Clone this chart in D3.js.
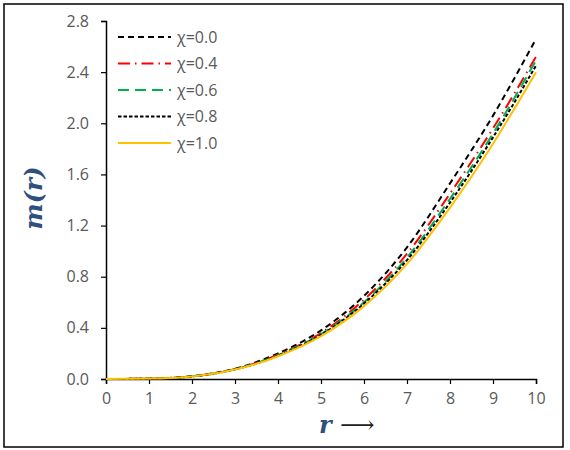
<!DOCTYPE html>
<html>
<head>
<meta charset="utf-8">
<script src="https://cdn.jsdelivr.net/npm/d3@7"></script>
<style>
  body { margin: 0; background: #fff; }
  svg text { font-family: "Open Sans", "Liberation Sans", sans-serif; }
</style>
</head>
<body>
<div id="container"></div>
<script>
const width = 570,
  height = 450,
  margin = { top: 21, bottom: 71, left: 106, right: 34 };

/** -------------- DATA -------------- */

const rValues = [0, 1, 2, 3, 4, 5, 6, 7, 8, 9, 10];
const chi00 = [0, 0.003, 0.022, 0.080, 0.200, 0.380, 0.650, 1.030, 1.530, 2.060, 2.660];
const chi04 = [0, 0.003, 0.021, 0.077, 0.190, 0.360, 0.620, 0.980, 1.450, 1.960, 2.520];
const chi06 = [0, 0.003, 0.021, 0.076, 0.186, 0.352, 0.600, 0.950, 1.410, 1.920, 2.490];
const chi08 = [0, 0.003, 0.020, 0.075, 0.182, 0.345, 0.590, 0.930, 1.380, 1.890, 2.450];
const chi10 = [0, 0.003, 0.020, 0.074, 0.178, 0.335, 0.570, 0.900, 1.340, 1.840, 2.400];
const seriesNames = ["χ=0.0", "χ=0.4", "χ=0.6", "χ=0.8", "χ=1.0"];
const xTicks = [0, 1, 2, 3, 4, 5, 6, 7, 8, 9, 10];
const yTicks = [0.0, 0.4, 0.8, 1.2, 1.6, 2.0, 2.4, 2.8];

const styles = [
  { color: "#000000", dash: "6,4" },
  { color: "#FF0000", dash: "12,5,1.5,5" },
  { color: "#00B050", dash: "11,6" },
  { color: "#000000", dash: "3.5,2" },
  { color: "#FFC000", dash: null }
];

const series = [chi00, chi04, chi06, chi08, chi10].map((vals, i) => ({
  name: seriesNames[i],
  style: styles[i],
  points: rValues.map((r, j) => [r, vals[j]])
}));

/** -------------- SCALES -------------- */

const x = d3.scaleLinear([0, 10], [margin.left, width - margin.right]);
const y = d3.scaleLinear([0, 2.8], [height - margin.bottom, margin.top]);

/** -------------- APPEND TO DOM -------------- */

const svg = d3.select("#container")
  .append("svg")
  .attr("width", width)
  .attr("height", height);

// outer frame
svg.append("rect")
  .attr("x", 4).attr("y", 4)
  .attr("width", 559).attr("height", 443)
  .attr("fill", "none")
  .attr("stroke", "#000")
  .attr("stroke-width", 1.5);

// x axis
const xAxis = svg.append("g")
  .attr("transform", `translate(0, ${y(0)})`);
xAxis.call(d3.axisBottom(x).tickValues(d3.range(0, 10.01, 0.5)).tickSize(5).tickFormat(""));
xAxis.call(d3.axisBottom(x).tickValues(xTicks).tickSize(5).tickPadding(9).tickFormat(d3.format("d")));

// y axis
const yAxis = svg.append("g")
  .attr("transform", `translate(${x(0)}, 0)`);
yAxis.call(d3.axisLeft(y).tickValues(d3.range(0, 2.81, 0.2)).tickSize(5).tickFormat(""));
yAxis.call(d3.axisLeft(y).tickValues(yTicks).tickSize(5).tickPadding(12).tickFormat(d3.format(".1f")));

svg.selectAll(".domain")
  .attr("stroke", "#000")
  .attr("stroke-width", 1.5);
svg.selectAll(".tick line")
  .attr("stroke", "#000")
  .attr("stroke-width", 1.2);
svg.selectAll(".tick text")
  .attr("fill", "#595959")
  .style("font-size", "16px");

// lines
const line = d3.line()
  .x(d => x(d[0]))
  .y(d => y(d[1]))
  .curve(d3.curveMonotoneX);

svg.append("g")
  .selectAll("path")
  .data(series)
  .join("path")
    .attr("fill", "none")
    .attr("stroke", d => d.style.color)
    .attr("stroke-width", 2)
    .attr("stroke-dasharray", d => d.style.dash)
    .attr("d", d => line(d.points));

// legend
const legend = svg.append("g")
  .attr("transform", "translate(118, 37)");

const rows = legend.selectAll("g")
  .data(series)
  .join("g")
    .attr("transform", (d, i) => `translate(0, ${i * 26.5})`);

rows.append("line")
  .attr("x1", 0).attr("x2", 53)
  .attr("y1", 0).attr("y2", 0)
  .attr("stroke", d => d.style.color)
  .attr("stroke-width", 2)
  .attr("stroke-dasharray", d => d.style.dash);

rows.append("text")
  .attr("x", 59)
  .attr("y", 0)
  .attr("dy", "0.35em")
  .attr("fill", "#595959")
  .style("font-size", "16px")
  .text(d => d.name);

// axis titles
svg.append("text")
  .attr("transform", `translate(42, ${y(1.4) - 2}) rotate(-90)`)
  .attr("text-anchor", "middle")
  .attr("fill", "#2F4F7F")
  .style("font-family", "'DejaVu Serif', serif")
  .style("font-style", "italic")
  .style("font-weight", "bold")
  .style("font-size", "25px")
  .text("m(r)");

const xTitle = svg.append("text")
  .attr("x", x(5.6))
  .attr("y", 433)
  .attr("text-anchor", "middle")
  .attr("fill", "#2F4F7F")
  .style("font-family", "'DejaVu Serif', serif")
  .style("font-size", "24px");
xTitle.append("tspan")
  .style("font-style", "italic")
  .style("font-weight", "bold")
  .text("r ");
xTitle.append("tspan")
  .attr("fill", "#222")
  .text("⟶");
</script>
</body>
</html>
